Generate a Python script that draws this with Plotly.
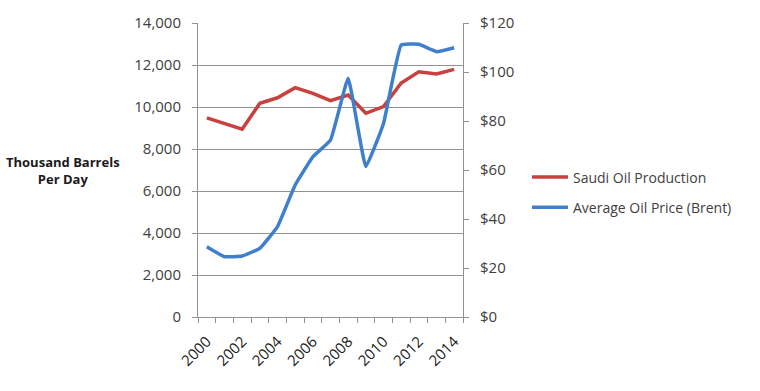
import plotly.graph_objects as go

years = list(range(2000, 2015))
saudi_production = [9480, 9190, 8940, 10180, 10440, 10920, 10650, 10300, 10570, 9700, 10020, 11140, 11680, 11570, 11790]
brent_price = [28.7, 24.6, 24.9, 28.0, 36.9, 53.9, 65.4, 72.2, 97.4, 61.4, 79.0, 111.0, 111.3, 108.3, 109.9]
left_ticks = [0, 2000, 4000, 6000, 8000, 10000, 12000, 14000]
right_ticks = [0, 20, 40, 60, 80, 100, 120]
x_ticks = [2000, 2002, 2004, 2006, 2008, 2010, 2012, 2014]

FONT = "Open Sans"
GRID = "#929292"

fig = go.Figure()
fig.add_trace(go.Scatter(x=years, y=saudi_production, name="Saudi Oil Production",
                         mode="lines", line=dict(color="#C8413E", width=3.5), yaxis="y",
                         legendgroup="a"))
fig.add_trace(go.Scatter(x=years, y=brent_price, name="Average Oil Price (Brent)",
                         mode="lines", line=dict(color="#3F7FCC", width=3.5, shape="spline", smoothing=0.3),
                         yaxis="y2", legendgroup="b"))

L, T, PW, PH = 198, 23, 265, 294
fig.update_layout(
    width=760, height=391,
    margin=dict(l=L, r=760 - L - PW, t=T, b=391 - T - PH, autoexpand=False),
    paper_bgcolor="white", plot_bgcolor="white",
    font=dict(family=FONT, size=15, color="#404040"),
    showlegend=True,
    legend=dict(x=(527 - L) / PW, y=(T + PH - 192.5) / PH, xanchor="left", yanchor="middle",
                font=dict(family=FONT, size=14, color="#404040"),
                itemwidth=36, traceorder="grouped", tracegroupgap=9, bgcolor="rgba(0,0,0,0)"),
    xaxis=dict(range=[1999.5, 2014.5], tickvals=x_ticks, ticktext=[str(v) for v in x_ticks],
               tickangle=-45, ticks="", showgrid=False, zeroline=False,
               showline=True, linecolor=GRID, linewidth=1, ticklabelstandoff=9,
               tickfont=dict(family=FONT, size=15, color="#1a1a1a"),
               minor=dict(tick0=1999.5, dtick=1, ticks="outside", ticklen=5, tickcolor=GRID, showgrid=False)),
    yaxis=dict(range=[0, 14000], tickvals=left_ticks, ticktext=[f"{v:,}" for v in left_ticks],
               showgrid=True, gridcolor=GRID, gridwidth=1, zeroline=False,
               showline=True, linecolor=GRID, linewidth=1, mirror=False,
               ticks="outside", ticklen=5, tickcolor=GRID, ticklabelstandoff=8),
    yaxis2=dict(range=[0, 120], tickvals=right_ticks, ticktext=[f"${v}" for v in right_ticks],
                overlaying="y", side="right", showgrid=False, zeroline=False,
                showline=True, linecolor=GRID, linewidth=1,
                ticks="outside", ticklen=5, tickcolor=GRID, ticklabelstandoff=8),
    annotations=[dict(text="<b>Thousand Barrels<br>Per Day</b>",
                      x=(63 - L) / PW, y=(T + PH - 170) / PH,
                      xref="paper", yref="paper", xanchor="center", yanchor="middle",
                      showarrow=False, font=dict(family=FONT, size=13, color="#1a1a1a"))],
)

fig.write_html("out.html", config={"displayModeBar": False},
               post_script="document.body.style.margin='0';document.body.style.padding='0';")
